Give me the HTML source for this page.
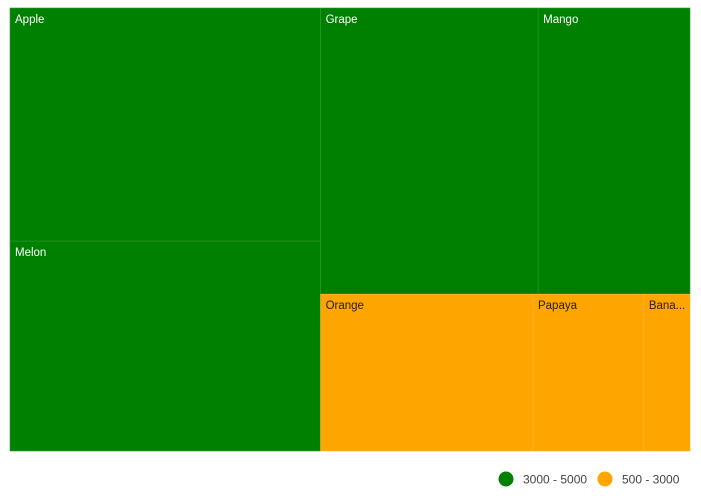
<!DOCTYPE html>
<html><head><meta charset="utf-8"><style>
body{margin:0;background:#fff;width:701px;height:493px;overflow:hidden;font-family:"Liberation Sans",sans-serif}
</style></head><body>
<svg id="chart" width="701" height="493"></svg>
<script>
const names=["Apple","Melon","Grape","Mango","Orange","Papaya","Banana"];
const values=[5000,4500,4300,3000,2300,1200,500];
const legendLabels=["3000 - 5000","500 - 3000"];
const svg=document.getElementById('chart');
const NS="http://www.w3.org/2000/svg";
const X0=10,Y0=8,W=680,H=443;
function color(v){return v>=3000?"#008000":"#FFA500";}
function sum(a){return a.reduce((s,v)=>s+v,0);}
const total=sum(values);
const col1=[0,1],topRow=[2,3],botRow=[4,5,6];
const c1w=W*sum(col1.map(i=>values[i]))/total;
const rects=[];
let yy=Y0;const c1s=sum(col1.map(i=>values[i]));
col1.forEach(i=>{const h=H*values[i]/c1s;rects[i]={x:X0,y:yy,w:c1w,h:h};yy+=h;});
const rw=W-c1w,rs=sum(topRow.concat(botRow).map(i=>values[i]));
const th=H*sum(topRow.map(i=>values[i]))/rs;
[[topRow,Y0,th],[botRow,Y0+th,H-th]].forEach(([row,ry,rh])=>{
 const s=sum(row.map(i=>values[i]));let x=X0+c1w;
 row.forEach(i=>{const w=rw*values[i]/s;rects[i]={x:x,y:ry,w:w,h:rh};x+=w;});
});
names.forEach((n,i)=>{
 const r=rects[i];const c=color(values[i]);
 const g=document.createElementNS(NS,'g');
 
 
 const rc=document.createElementNS(NS,'rect');
 rc.setAttribute('x',r.x);rc.setAttribute('y',r.y);rc.setAttribute('width',r.w);rc.setAttribute('height',r.h);
 rc.setAttribute('fill',c);rc.setAttribute('stroke',c==="#008000"?"#2e9a2e":"#ffb733");rc.setAttribute('stroke-width','0.6');
 g.appendChild(rc);
 const t=document.createElementNS(NS,'text');
 
 
 t.setAttribute('x',r.x+5);t.setAttribute('y',r.y+15);
 t.setAttribute('font-size','11.5');t.setAttribute('fill',c==="#008000"?"#fff":"#222");
 let label=n;if(r.w<(n.length*6.5+8))label=n.slice(0,Math.max(1,Math.floor((r.w-20)/6.5)))+"...";
 t.textContent=label;g.appendChild(t);svg.appendChild(g);
});
const lx=[506,605],cols=["#008000","#FFA500"];
legendLabels.forEach((l,i)=>{
 const g=document.createElementNS(NS,'g');
 
 
 const c=document.createElementNS(NS,'circle');
 c.setAttribute('cx',lx[i]);c.setAttribute('cy',479);c.setAttribute('r',7.5);c.setAttribute('fill',cols[i]);
 const t=document.createElementNS(NS,'text');
 t.setAttribute('x',lx[i]+17);t.setAttribute('y',483.5);t.setAttribute('font-size','12');t.setAttribute('fill','#444');
 t.textContent=l;g.appendChild(c);g.appendChild(t);svg.appendChild(g);
});
</script>
</body></html>
